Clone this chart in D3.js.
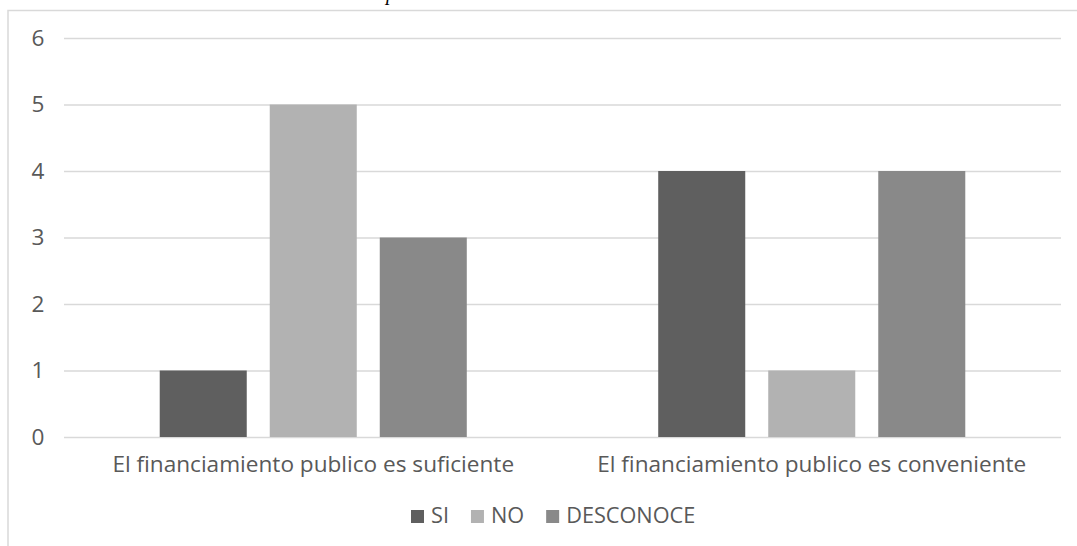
<!DOCTYPE html>
<html>
<head>
<meta charset="utf-8">
<script src="https://cdn.jsdelivr.net/npm/d3@7"></script>
<style>
  html, body { margin: 0; padding: 0; background: #ffffff; }
  svg { display: block; }
</style>
</head>
<body>
<script>
// Survey answers per statement
const categories = ["El financiamiento publico es suficiente", "El financiamiento publico es conveniente"];
const seriesNames = ["SI", "NO", "DESCONOCE"];
const siValues = [1, 4];
const noValues = [5, 1];
const desconoceValues = [3, 4];
const yTicks = [0, 1, 2, 3, 4, 5, 6];

const seriesValues = [siValues, noValues, desconoceValues];
const colors = ["#5f5f5f", "#b2b2b2", "#898989"];

const W = 1077, H = 546;
const textColor = "#595959";
const font = "'Open Sans', 'DejaVu Sans', sans-serif";

const svg = d3.select("body").append("svg")
  .attr("width", W).attr("height", H);

// chart frame (top and left edges visible)
svg.append("path")
  .attr("d", `M8,${H} L8,10.5 L${W},10.5`)
  .attr("fill", "none")
  .attr("stroke", "#d9d9d9")
  .attr("stroke-width", 1.5);

// heading text above the frame, mostly clipped by the top edge
svg.append("text")
  .attr("x", 386).attr("y", 0)
  .attr("font-family", "'Liberation Serif', serif")
  .attr("font-style", "italic")
  .attr("font-size", 20)
  .attr("fill", "#000")
  .text("p");

const plot = { left: 64, right: 1061, top: 38, bottom: 437 };

const x0 = d3.scaleBand()
  .domain(categories)
  .range([plot.left, plot.right])
  .paddingInner(0).paddingOuter(0);

const x1 = d3.scaleBand()
  .domain(seriesNames)
  .range([0, x0.bandwidth()])
  .paddingInner(0.209)
  .paddingOuter(0.87);

const y = d3.scaleLinear()
  .domain([0, 6])
  .range([plot.bottom, plot.top]);

// gridlines and value labels
const yAxis = d3.axisLeft(y)
  .tickValues(yTicks)
  .tickSize(-(plot.right - plot.left))
  .tickPadding(20)
  .tickFormat(d3.format("d"));

const gy = svg.append("g")
  .attr("transform", `translate(${plot.left},0)`)
  .call(yAxis);
gy.select(".domain").remove();
gy.selectAll(".tick line")
  .attr("stroke", "#d9d9d9")
  .attr("stroke-width", 1.5);
gy.selectAll(".tick text")
  .attr("font-family", font)
  .attr("font-size", 17)
  .attr("fill", textColor)
  .attr("text-anchor", "middle")
  .attr("x", 38 - plot.left);

// bars
const groups = svg.append("g").selectAll("g")
  .data(categories)
  .join("g")
  .attr("transform", d => `translate(${x0(d)},0)`);

groups.selectAll("rect")
  .data((d, i) => seriesNames.map((s, j) => ({ s, v: seriesValues[j][i], c: colors[j] })))
  .join("rect")
  .attr("x", d => x1(d.s))
  .attr("width", x1.bandwidth())
  .attr("y", d => y(d.v))
  .attr("height", d => y(0) - y(d.v))
  .attr("fill", d => d.c);

// category labels
const catLabels = svg.append("g").selectAll("text")
  .data(categories)
  .join("text")
  .attr("x", d => x0(d) + x0.bandwidth() / 2)
  .attr("y", 472)
  .attr("text-anchor", "middle")
  .attr("font-family", font)
  .attr("font-size", 17)
  .attr("fill", textColor)
  .text(d => d);

// fit label size to the available width
const targetW = 402;
const measured = catLabels.node().getComputedTextLength();
const catSize = 17 * targetW / measured;
catLabels.attr("font-size", catSize);
gy.selectAll(".tick text").attr("font-size", catSize);

// legend
const legendSize = catSize * 0.96;
const legend = svg.append("g");
const items = legend.selectAll("g")
  .data(seriesNames)
  .join("g");
items.append("rect")
  .attr("width", 13).attr("height", 13)
  .attr("y", 510)
  .attr("fill", (d, i) => colors[i]);
items.append("text")
  .attr("x", 20)
  .attr("y", 523)
  .attr("font-family", font)
  .attr("font-size", legendSize)
  .attr("fill", textColor)
  .text(d => d);

let cursor = 0;
const itemGap = 22;
const offsets = [];
items.each(function () {
  const w = 20 + d3.select(this).select("text").node().getComputedTextLength();
  offsets.push(cursor);
  cursor += w + itemGap;
});
const startX = 411;
items.attr("transform", (d, i) => `translate(${startX + offsets[i]},0)`);
</script>
</body>
</html>
